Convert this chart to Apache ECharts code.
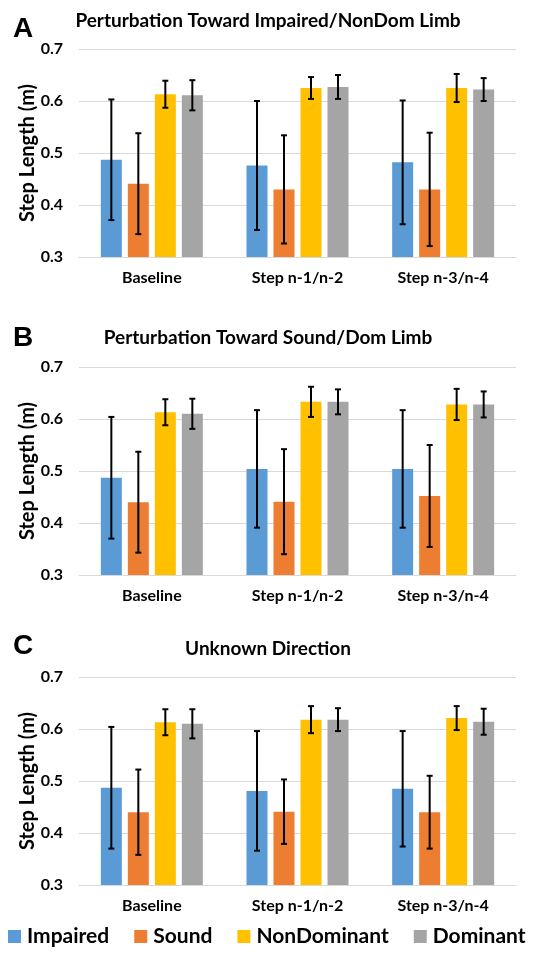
<!DOCTYPE html>
<html><head><meta charset="utf-8">
<script src="https://cdn.jsdelivr.net/npm/echarts@6/dist/echarts.min.js"></script>
<style>html,body{margin:0;padding:0;background:#fff}#c{width:547px;height:955px}</style>
</head><body><div id="c"></div>
<script>
var categories = ['Baseline', 'Step n-1/n-2', 'Step n-3/n-4'];
var seriesNames = ['Impaired', 'Sound', 'NonDominant', 'Dominant'];
var yTicks = [0.3, 0.4, 0.5, 0.6, 0.7];
var panelTitles = ['Perturbation Toward Impaired/NonDom Limb', 'Perturbation Toward Sound/Dom Limb', 'Unknown Direction'];
var panelLetters = ['A', 'B', 'C'];

// Panel A means and SD (error bars)
var A_Impaired = [0.487, 0.476, 0.482];
var A_Sound = [0.441, 0.430, 0.430];
var A_NonDominant = [0.613, 0.625, 0.625];
var A_Dominant = [0.611, 0.627, 0.622];
var A_Impaired_sd = [0.116, 0.124, 0.119];
var A_Sound_sd = [0.097, 0.104, 0.109];
var A_NonDominant_sd = [0.026, 0.021, 0.027];
var A_Dominant_sd = [0.029, 0.023, 0.022];

// Panel B
var B_Impaired = [0.487, 0.504, 0.504];
var B_Sound = [0.440, 0.441, 0.452];
var B_NonDominant = [0.613, 0.633, 0.628];
var B_Dominant = [0.610, 0.633, 0.628];
var B_Impaired_sd = [0.117, 0.113, 0.113];
var B_Sound_sd = [0.097, 0.101, 0.098];
var B_NonDominant_sd = [0.025, 0.029, 0.030];
var B_Dominant_sd = [0.029, 0.024, 0.025];

// Panel C
var C_Impaired = [0.487, 0.481, 0.485];
var C_Sound = [0.440, 0.441, 0.440];
var C_NonDominant = [0.613, 0.618, 0.621];
var C_Dominant = [0.610, 0.618, 0.614];
var C_Impaired_sd = [0.117, 0.115, 0.111];
var C_Sound_sd = [0.082, 0.062, 0.070];
var C_NonDominant_sd = [0.025, 0.026, 0.023];
var C_Dominant_sd = [0.028, 0.022, 0.025];

var panels = [
  {means: [A_Impaired, A_Sound, A_NonDominant, A_Dominant], sds: [A_Impaired_sd, A_Sound_sd, A_NonDominant_sd, A_Dominant_sd]},
  {means: [B_Impaired, B_Sound, B_NonDominant, B_Dominant], sds: [B_Impaired_sd, B_Sound_sd, B_NonDominant_sd, B_Dominant_sd]},
  {means: [C_Impaired, C_Sound, C_NonDominant, C_Dominant], sds: [C_Impaired_sd, C_Sound_sd, C_NonDominant_sd, C_Dominant_sd]}
];

var colors = ['#5B9BD5', '#ED7D31', '#FFC000', '#A5A5A5'];
var FONT = 'Lato';
var gridTops = [49, 367, 677];
var gridH = 208;
var titleTops = [6, 323, 634];
var letterTops = [10, 319, 627];
var BW = 21, GAP = 6;

var grids = [], xAxes = [], yAxes = [], series = [], titles = [];
for (var p = 0; p < 3; p++) {
  grids.push({left: 79, width: 437, top: gridTops[p], height: gridH});
  xAxes.push({type: 'category', gridIndex: p, data: categories,
    axisLine: {show: true, lineStyle: {color: '#D9D9D9', width: 1}},
    axisTick: {show: false},
    axisLabel: {margin: 13, color: '#000', fontFamily: FONT, fontWeight: 'bold', fontSize: 16}});
  yAxes.push({type: 'value', gridIndex: p, min: yTicks[0], max: yTicks[yTicks.length - 1], interval: 0.1,
    name: 'Step Length (m)', nameLocation: 'middle', nameGap: 41, nameRotate: 90, nameMoveOverlap: false,
    nameTextStyle: {color: '#000', fontFamily: FONT, fontWeight: 'bold', fontSize: 20},
    axisLine: {show: false}, axisTick: {show: false},
    axisLabel: {margin: 16, color: '#000', fontFamily: FONT, fontWeight: 'bold', fontSize: 16,
      formatter: function (v) { return v.toFixed(1); }},
    splitLine: {lineStyle: {color: '#D9D9D9', width: 1}}});
  titles.push({text: panelTitles[p], left: 263, textAlign: 'center', top: titleTops[p],
    textStyle: {fontFamily: FONT, fontWeight: 'bold', fontSize: 19, color: '#000'}});
  titles.push({text: panelLetters[p], left: 8, top: letterTops[p],
    textStyle: {fontFamily: 'Liberation Sans', fontWeight: 'bold', fontSize: 28, color: '#000'}});
  for (var s = 0; s < 4; s++) {
    series.push({type: 'bar', name: seriesNames[s], xAxisIndex: p, yAxisIndex: p,
      data: panels[p].means[s], barWidth: BW, barGap: (GAP / BW * 100) + '%',
      itemStyle: {color: colors[s]}, silent: true});
  }
  var errData = [];
  for (var s2 = 0; s2 < 4; s2++) {
    for (var c = 0; c < categories.length; c++) {
      var m = panels[p].means[s2][c], sd = panels[p].sds[s2][c];
      errData.push([c, s2, m - sd, m + sd]);
    }
  }
  series.push({type: 'custom', name: 'err' + p, xAxisIndex: p, yAxisIndex: p, z: 10, silent: true,
    data: errData,
    renderItem: function (params, api) {
      var c = api.value(0), s = api.value(1);
      var lo = api.coord([c, api.value(2)]);
      var hi = api.coord([c, api.value(3)]);
      var x = lo[0] + (s - 1.5) * (BW + GAP);
      var cap = 3;
      var st = {stroke: '#000', lineWidth: 2};
      return {type: 'group', children: [
        {type: 'line', shape: {x1: x, y1: lo[1], x2: x, y2: hi[1]}, style: st},
        {type: 'line', shape: {x1: x - cap, y1: lo[1], x2: x + cap, y2: lo[1]}, style: st},
        {type: 'line', shape: {x1: x - cap, y1: hi[1], x2: x + cap, y2: hi[1]}, style: st}
      ]};
    }});
}

var chart = echarts.init(document.getElementById('c'));
chart.setOption({
  animation: false,
  title: titles,
  grid: grids, xAxis: xAxes, yAxis: yAxes,
  legend: {data: seriesNames, left: 8, top: 926, width: 560, icon: 'rect', itemWidth: 13, itemHeight: 13,
    itemGap: 25, padding: 0,
    textStyle: {fontFamily: FONT, fontWeight: 'bold', fontSize: 21, color: '#000', padding: [0, 0, 0, 1]}},
  series: series
});
</script></body></html>
